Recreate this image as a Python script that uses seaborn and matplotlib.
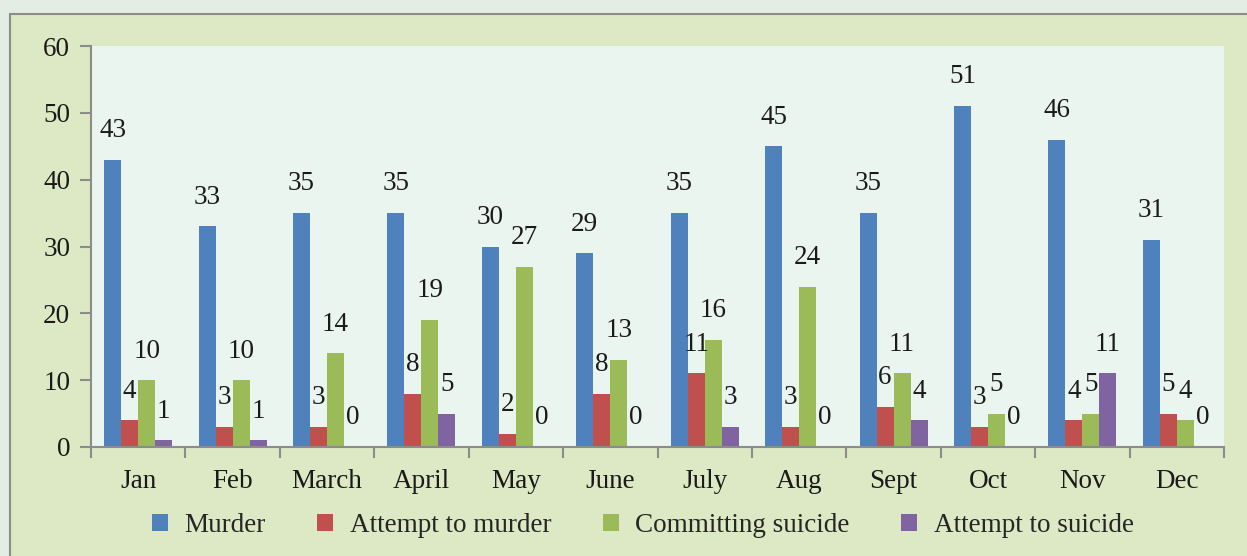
import numpy as np
import pandas as pd
import matplotlib
matplotlib.use("Agg")
import matplotlib.pyplot as plt
import seaborn as sns
from matplotlib.patches import Rectangle

months = ["Jan", "Feb", "March", "April", "May", "June", "July", "Aug",
          "Sept", "Oct", "Nov", "Dec"]
murder = [43, 33, 35, 35, 30, 29, 35, 45, 35, 51, 46, 31]
attempt_murder = [4, 3, 3, 8, 2, 8, 11, 3, 6, 3, 4, 5]
suicide = [10, 10, 14, 19, 27, 13, 16, 24, 11, 5, 5, 4]
attempt_suicide = [1, 1, 0, 5, 0, 0, 3, 0, 4, 0, 11, 0]

series = ["Murder", "Attempt to murder", "Committing suicide", "Attempt to suicide"]
colors = ["#4f81bd", "#c0504d", "#9bbb59", "#8064a2"]

df = pd.DataFrame({
    "month": months * 4,
    "kind": [s for s in series for _ in months],
    "count": murder + attempt_murder + suicide + attempt_suicide,
})

sns.set_style("white")
plt.rcParams["font.family"] = ["Liberation Serif", "DejaVu Serif"]
fs = 19.5

fig = plt.figure(figsize=(12.47, 5.56), dpi=100)
fig.patch.set_facecolor("#e4ede3")
W, H = 1247, 556
# outer frame of the chart, kept behind the axes
fig.patches.append(Rectangle((10 / W, -0.1), 1.2, 1 - 14 / H + 0.1,
                             transform=fig.transFigure, facecolor="#dce9c4",
                             edgecolor="#8c8c8c", linewidth=1.5, zorder=-5))

ax = fig.add_axes([91 / W, 1 - 447 / H, (1224 - 91) / W, (447 - 46) / H])
ax.set_zorder(2)
ax.set_facecolor("#ebf5ef")

sns.barplot(data=df, x="month", y="count", hue="kind", hue_order=series,
            order=months, palette=colors, width=0.72, gap=0, ax=ax,
            linewidth=0, saturation=1, errorbar=None)

for cont in ax.containers:
    ax.bar_label(cont, padding=12, fontsize=fs, color="#1a1a1a")

ax.set_ylim(0, 60)
ax.set_yticks(range(0, 61, 10))
ax.set_xlim(-0.5, len(months) - 0.5)
ax.set_xticks(np.arange(-0.5, len(months), 1), minor=True)
ax.tick_params(axis="x", which="major", length=0, pad=16, labelsize=fs,
               colors="#1a1a1a")
ax.tick_params(axis="x", which="minor", length=8, width=1.5, color="#8c8c8c",
               direction="out", bottom=True)
ax.tick_params(axis="y", length=8, width=1.5, color="#8c8c8c", labelsize=fs,
               labelcolor="#1a1a1a", pad=7, left=True)
ax.set_xlabel("")
ax.set_ylabel("")
for s in ["top", "right"]:
    ax.spines[s].set_visible(False)
for s in ["left", "bottom"]:
    ax.spines[s].set_color("#8c8c8c")
    ax.spines[s].set_linewidth(1.5)

handles, labels = ax.get_legend_handles_labels()
ax.legend(handles, labels, loc="center", bbox_to_anchor=(0.487, -0.195),
          ncol=4, frameon=False, fontsize=fs, handlelength=0.6,
          handleheight=0.6, handletextpad=0.6, columnspacing=1.9)

fig.savefig("out.png", dpi=100, facecolor=fig.get_facecolor())
